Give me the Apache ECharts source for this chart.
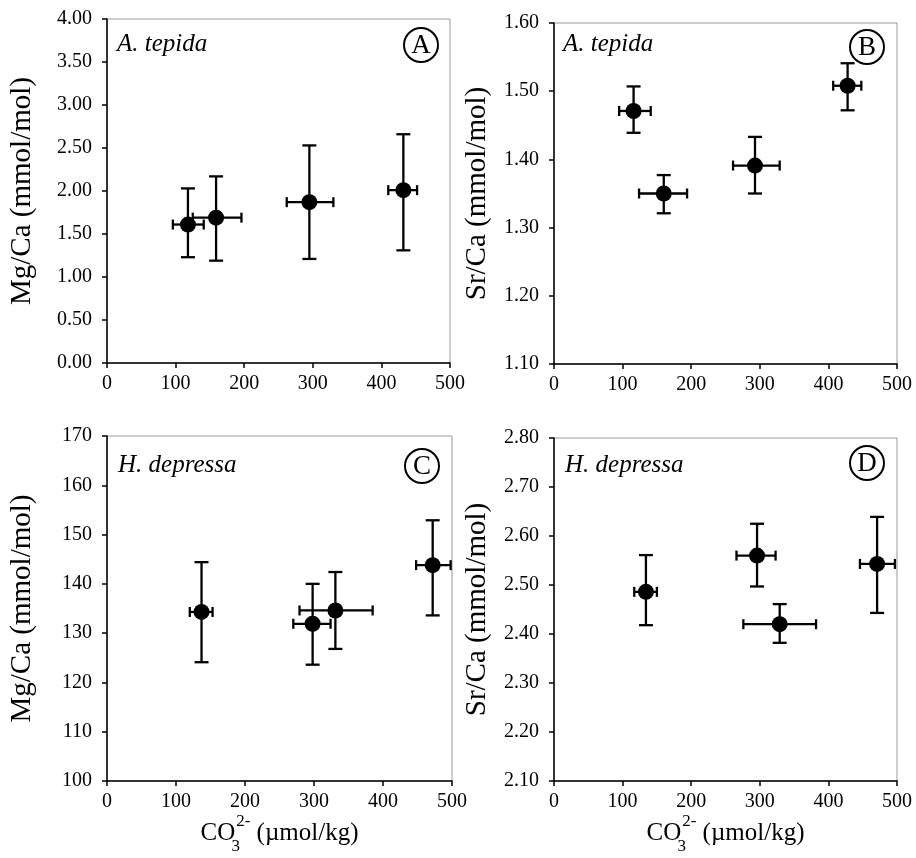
<!DOCTYPE html>
<html>
<head>
<meta charset="utf-8">
<script src="https://cdn.jsdelivr.net/npm/echarts@6/dist/echarts.min.js"></script>
<style>html,body{margin:0;padding:0;background:#fff}#c{width:916px;height:858px}</style>
</head>
<body>
<div id="c"></div>
<script>
// ---- Data ----
// Panel A: A. tepida Mg/Ca
const co3A = [118, 159, 295, 432];
const co3A_lo = [96, 125, 262, 410];
const co3A_hi = [141, 196, 330, 452];
const mgA = [1.61, 1.69, 1.87, 2.01];
const mgA_lo = [1.23, 1.19, 1.21, 1.31];
const mgA_hi = [2.03, 2.17, 2.53, 2.66];
// Panel B: A. tepida Sr/Ca
const co3B = [116, 160, 293, 428];
const co3B_lo = [95, 124, 261, 407];
const co3B_hi = [141, 194, 329, 448];
const srB = [1.471, 1.350, 1.391, 1.508];
const srB_lo = [1.439, 1.321, 1.350, 1.472];
const srB_hi = [1.507, 1.377, 1.433, 1.541];
// Panel C: H. depressa Mg/Ca
const co3C = [137, 298, 331, 472];
const co3C_lo = [120, 270, 279, 448];
const co3C_hi = [153, 324, 385, 498];
const mgC = [134.3, 131.9, 134.6, 143.8];
const mgC_lo = [124.1, 123.6, 126.8, 133.6];
const mgC_hi = [144.4, 140.0, 142.4, 152.9];
// Panel D: H. depressa Sr/Ca
const co3D = [134, 296, 329, 471];
const co3D_lo = [117, 266, 276, 446];
const co3D_hi = [150, 323, 382, 497];
const srD = [2.486, 2.560, 2.420, 2.543];
const srD_lo = [2.418, 2.497, 2.382, 2.443];
const srD_hi = [2.561, 2.625, 2.461, 2.639];

const panelLetters = ['A', 'B', 'C', 'D'];
const speciesNames = ['A. tepida', 'A. tepida', 'H. depressa', 'H. depressa'];
const yNames = ['Mg/Ca (mmol/mol)', 'Sr/Ca (mmol/mol)', 'Mg/Ca (mmol/mol)', 'Sr/Ca (mmol/mol)'];
const yRanges = [[0, 4, 0.5, 2], [1.1, 1.6, 0.1, 2], [100, 170, 10, 0], [2.1, 2.8, 0.1, 2]];
const xRange = [0, 500, 100];

// ---- Layout ----
const FONT = '"Liberation Serif", "Times New Roman", serif';
const grids = [
  {left: 107, top: 19, width: 343, height: 344},
  {left: 554, top: 23, width: 343, height: 341},
  {left: 107, top: 436, width: 345, height: 345},
  {left: 554, top: 438, width: 343, height: 343}
];
const yNameGaps = [70, 62, 70, 62];
const panels = [
  [co3A, co3A_lo, co3A_hi, mgA, mgA_lo, mgA_hi],
  [co3B, co3B_lo, co3B_hi, srB, srB_lo, srB_hi],
  [co3C, co3C_lo, co3C_hi, mgC, mgC_lo, mgC_hi],
  [co3D, co3D_lo, co3D_hi, srD, srD_lo, srD_hi]
];

function errRender(params, api) {
  const x = api.value(0), y = api.value(1);
  const yl = api.coord([x, api.value(2)]);
  const yh = api.coord([x, api.value(3)]);
  const xl = api.coord([api.value(4), y]);
  const xh = api.coord([api.value(5), y]);
  const st = {stroke: '#000', lineWidth: 2.3};
  const cw = 7, ch = 5;
  const L = (x1, y1, x2, y2) => ({type: 'line', shape: {x1, y1, x2, y2}, style: st});
  return {type: 'group', children: [
    L(yl[0], yl[1], yh[0], yh[1]),
    L(yl[0] - cw, yl[1], yl[0] + cw, yl[1]),
    L(yh[0] - cw, yh[1], yh[0] + cw, yh[1]),
    L(xl[0], xl[1], xh[0], xh[1]),
    L(xl[0], xl[1] - ch, xl[0], xl[1] + ch),
    L(xh[0], xh[1] - ch, xh[0], xh[1] + ch)
  ]};
}

const xAxes = [], yAxes = [], series = [], graphics = [];
grids.forEach((g, i) => {
  g.show = true; g.borderColor = '#9a9a9a'; g.borderWidth = 1; g.containLabel = false;
  const bottomRow = i >= 2;
  xAxes.push({
    gridIndex: i, type: 'value', min: xRange[0], max: xRange[1], interval: xRange[2],
    axisLine: {show: true, onZero: false, lineStyle: {color: '#000', width: 1.5}},
    axisTick: {show: true, inside: false, length: 5, lineStyle: {color: '#000', width: 1.5}},
    axisLabel: {color: '#000', fontFamily: FONT, fontSize: 20, margin: 11},
    splitLine: {show: false},
    name: bottomRow ? '{n|CO}{s|3}{p|2-}{n| (\u00b5mol/kg)}' : '',
    nameLocation: 'middle', nameGap: 31,
    nameTextStyle: {
      color: '#000', fontFamily: FONT,
      rich: {
        n: {fontSize: 25, fontFamily: FONT, color: '#000', lineHeight: 42, verticalAlign: 'middle'},
        s: {fontSize: 17, fontFamily: FONT, color: '#000', lineHeight: 17, verticalAlign: 'bottom', width: 1, align: 'left'},
        p: {fontSize: 17, fontFamily: FONT, color: '#000', lineHeight: 17, verticalAlign: 'top'}
      }
    }
  });
  const r = yRanges[i];
  yAxes.push({
    gridIndex: i, type: 'value', min: r[0], max: r[1], interval: r[2],
    axisLine: {show: true, onZero: false, lineStyle: {color: '#000', width: 1.5}},
    axisTick: {show: true, inside: false, length: 5, lineStyle: {color: '#000', width: 1.5}},
    axisLabel: {color: '#000', fontFamily: FONT, fontSize: 20, margin: 15,
      formatter: v => v.toFixed(r[3])},
    splitLine: {show: false},
    name: yNames[i], nameLocation: 'middle', nameGap: yNameGaps[i],
    nameTextStyle: {color: '#000', fontFamily: FONT, fontSize: 29}
  });
  const p = panels[i];
  const rows = p[0].map((x, k) => [x, p[3][k], p[4][k], p[5][k], p[1][k], p[2][k]]);
  series.push({
    type: 'custom', xAxisIndex: i, yAxisIndex: i, renderItem: errRender,
    data: rows, encode: {x: 0, y: 1}, z: 2, silent: true, clip: false
  });
  series.push({
    type: 'scatter', xAxisIndex: i, yAxisIndex: i, symbol: 'circle', symbolSize: 16,
    itemStyle: {color: '#000', opacity: 1}, data: p[0].map((x, k) => [x, p[3][k]]), z: 3, silent: true
  });
});

const letterPos = [[421, 45], [867, 47], [422, 466], [867, 463]];
const speciesPos = [[117, 44], [563, 44], [118, 465], [565, 465]];
letterPos.forEach((pt, i) => {
  graphics.push({type: 'circle', shape: {cx: pt[0], cy: pt[1], r: 17},
    style: {fill: 'none', stroke: '#000', lineWidth: 2}, z: 10});
  graphics.push({type: 'text', x: pt[0], y: pt[1] + 1,
    style: {text: panelLetters[i], font: '27px ' + FONT, fill: '#000', align: 'center', verticalAlign: 'middle'}, z: 10});
  graphics.push({type: 'text', x: speciesPos[i][0], y: speciesPos[i][1],
    style: {text: speciesNames[i], font: 'italic 25px ' + FONT, fill: '#000', align: 'left', verticalAlign: 'middle'}, z: 10});
});

const chart = echarts.init(document.getElementById('c'), null, {renderer: 'canvas'});
chart.setOption({
  animation: false,
  backgroundColor: '#fff',
  grid: grids, xAxis: xAxes, yAxis: yAxes, series: series, graphic: graphics
});
</script>
</body>
</html>
